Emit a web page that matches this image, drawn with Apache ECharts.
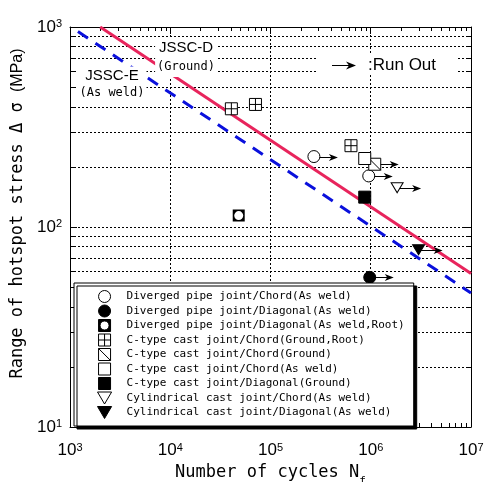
<!DOCTYPE html>
<html><head><meta charset="utf-8">
<script src="https://cdn.jsdelivr.net/npm/echarts@6/dist/echarts.min.js"></script>
<style>html,body{margin:0;padding:0;background:#fff}#c{width:484px;height:482px}</style>
</head><body><div id="c"></div>
<script>
// ---- data (N cycles, stress range MPa) ----
const seriesNames = [
  'Diverged pipe joint/Chord(As weld)',
  'Diverged pipe joint/Diagonal(As weld)',
  'Diverged pipe joint/Diagonal(As weld,Root)',
  'C-type cast joint/Chord(Ground,Root)',
  'C-type cast joint/Chord(Ground)',
  'C-type cast joint/Chord(As weld)',
  'C-type cast joint/Diagonal(Ground)',
  'Cylindrical cast joint/Chord(As weld)',
  'Cylindrical cast joint/Diagonal(As weld)'
];
const pipeChordAsWeld = [[271000, 225], [955000, 180]];
const pipeDiagAsWeld = [[977000, 56]];
const pipeDiagAsWeldRoot = [[48200, 114]];
const cChordGroundRoot = [[40700, 390], [70800, 410], [635000, 255]];
const cChordGround = [[1096000, 206]];
const cChordAsWeld = [[871000, 220]];
const cDiagGround = [[871000, 141]];
const cylChordAsWeld = [[1833000, 157]];
const cylDiagAsWeld = [[3000000, 77]];
const runOutPoints = [[271000, 225], [1096000, 206], [955000, 180], [1833000, 157], [3000000, 77], [977000, 56]];
const jsscD = [[2000, 1000], [10000000, 58.5]];
const jsscE = [[1200, 949], [10000000, 46.8]];
// axis ticks
const xRange = [1000, 10000000];
const yRange = [10, 1000];
const xDecades = [1000, 10000, 100000, 1000000];
const yDecades = [10, 100];
const minorSteps = [2, 3, 4, 5, 6, 7, 8, 9];

const SANS = 'Liberation Sans, Arial, sans-serif';
const NARROW = 'Liberation Sans Narrow, Arial Narrow, Liberation Sans, sans-serif';
const MONO = 'DejaVu Sans Mono, monospace';
const RED = '#e8245c';
const BLUE = '#0a10dc';

const seriesData = [pipeChordAsWeld, pipeDiagAsWeld, pipeDiagAsWeldRoot, cChordGroundRoot,
  cChordGround, cChordAsWeld, cDiagGround, cylChordAsWeld, cylDiagAsWeld];
const SQUARE = 'path://M0,0H20V20H0Z';
const markerStyles = [
  {symbol: 'circle', size: 12, fill: '#fff', bw: 1},
  {symbol: 'circle', size: 12, fill: '#000', bw: 1},
  {symbol: 'path://M0,0H20V20H0Z M10,2.5A7.5,7.5,0,1,0,10,17.5A7.5,7.5,0,1,0,10,2.5Z', size: 12, fill: '#000', bw: 0},
  {symbol: 'path://M0,0H20V20H0Z M10,0V20 M0,10H20', size: 12, fill: '#fff', bw: 1},
  {symbol: 'path://M0,0H20V20H0Z M0,0L20,20', size: 12, fill: '#fff', bw: 1},
  {symbol: SQUARE, size: 12, fill: '#fff', bw: 1},
  {symbol: SQUARE, size: 12, fill: '#000', bw: 1},
  {symbol: 'path://M0,0H20L10,17Z', size: [12, 10], fill: '#fff', bw: 1},
  {symbol: 'path://M0,0H20L10,17Z', size: [12, 10], fill: '#000', bw: 1}
];

function powLabel(v) {
  const e = Math.round(Math.log10(v));
  return '{b|10}{s|' + e + '}';
}
const powRich = {
  b: {fontFamily: NARROW, fontSize: 17, color: '#000'},
  s: {fontFamily: NARROW, fontSize: 11, color: '#000', verticalAlign: 'top'}
};
const dotted = {color: '#000', width: 1, type: [2, 2]};

const chart = echarts.init(document.getElementById('c'), null, {renderer: 'canvas'});

const series = [];
// frame: minor ticks and minor grid lines
series.push({
  type: 'custom', name: 'frame', silent: true, clip: false, z: 1,
  xAxisIndex: 0, yAxisIndex: 0,
  data: [[xRange[0], yRange[0]]],
  renderItem: function (params, api) {
    const bl = api.coord([xRange[0], yRange[0]]);
    const tr = api.coord([xRange[1], yRange[1]]);
    const ch = [];
    const ls = {stroke: '#000', lineWidth: 1};
    xDecades.forEach(function (d) {
      minorSteps.forEach(function (m) {
        const px = Math.round(api.coord([d * m, yRange[0]])[0]) + 0.5;
        ch.push({type: 'line', shape: {x1: px, y1: bl[1], x2: px, y2: bl[1] - 4}, style: ls});
        ch.push({type: 'line', shape: {x1: px, y1: tr[1], x2: px, y2: tr[1] + 4}, style: ls});
      });
    });
    yDecades.forEach(function (d) {
      minorSteps.forEach(function (m) {
        const py = Math.round(api.coord([xRange[0], d * m])[1]) + 0.5;
        ch.push({type: 'line', shape: {x1: bl[0], y1: py, x2: tr[0], y2: py},
          style: {stroke: '#000', lineWidth: 1, lineDash: [2, 2]}});
        ch.push({type: 'line', shape: {x1: bl[0], y1: py, x2: bl[0] + 4, y2: py}, style: ls});
        ch.push({type: 'line', shape: {x1: tr[0], y1: py, x2: tr[0] - 4, y2: py}, style: ls});
      });
    });
    return {type: 'group', children: ch};
  }
});
// design curves
series.push({
  type: 'line', name: 'JSSC-D', data: jsscD, showSymbol: false, symbol: 'none', z: 2,
  lineStyle: {color: RED, width: 3}, silent: true
});
series.push({
  type: 'line', name: 'JSSC-E', data: jsscE, showSymbol: false, symbol: 'none', z: 2,
  lineStyle: {color: BLUE, width: 3, type: [12, 9]}, silent: true
});
// run-out arrows
series.push({
  type: 'custom', name: 'Run Out', silent: true, z: 3, clip: false,
  data: runOutPoints,
  renderItem: function (params, api) {
    const p = api.coord([api.value(0), api.value(1)]);
    const x = p[0], y = Math.round(p[1]) + 0.5;
    return {type: 'group', children: [
      {type: 'line', shape: {x1: x, y1: y, x2: x + 20, y2: y}, style: {stroke: '#000', lineWidth: 1}},
      {type: 'polygon', shape: {points: [[x + 24, y], [x + 15, y - 3.5], [x + 17.5, y], [x + 15, y + 3.5]]},
        style: {fill: '#000'}}
    ]};
  }
});
// measured points
seriesNames.forEach(function (name, i) {
  const st = markerStyles[i];
  series.push({
    type: 'scatter', name: name, data: seriesData[i], z: 4,
    symbol: st.symbol, symbolSize: st.size,
    itemStyle: {color: st.fill, borderColor: '#000', borderWidth: st.bw, opacity: 1},
    emphasis: {disabled: true}
  });
});

const option = {
  animation: false,
  backgroundColor: '#fff',
  grid: {left: 70, top: 27, right: 13, bottom: 55, containLabel: false, outerBoundsMode: 'none'},
  xAxis: [{
    type: 'log', logBase: 10, min: xRange[0], max: xRange[1], position: 'bottom',
    axisLine: {show: true, onZero: false, lineStyle: {color: '#000', width: 1}},
    axisTick: {show: true, inside: true, length: 7, lineStyle: {color: '#000'}},
    axisLabel: {formatter: powLabel, rich: powRich, margin: 15},
    splitLine: {show: true, lineStyle: dotted},
    name: '{m|Number of cycles N}{f|f}', nameLocation: 'middle', nameGap: 32,
    nameTextStyle: {
      rich: {
        m: {fontFamily: MONO, fontSize: 17, color: '#000', verticalAlign: 'top'},
        f: {fontFamily: MONO, fontSize: 11, color: '#000', padding: [12, 0, 0, 0], verticalAlign: 'top'}
      }
    }
  }, {
    type: 'log', logBase: 10, min: xRange[0], max: xRange[1], position: 'top',
    axisLine: {show: true, onZero: false, lineStyle: {color: '#000', width: 1}},
    axisTick: {show: true, inside: true, length: 7, lineStyle: {color: '#000'}},
    axisLabel: {show: false}, splitLine: {show: false}
  }],
  yAxis: [{
    type: 'log', logBase: 10, min: yRange[0], max: yRange[1], position: 'left',
    axisLine: {show: true, onZero: false, lineStyle: {color: '#000', width: 1}},
    axisTick: {show: true, inside: true, length: 7, lineStyle: {color: '#000'}},
    axisLabel: {formatter: powLabel, rich: powRich, margin: 8},
    splitLine: {show: true, lineStyle: dotted},
    name: '{a|Range of hotspot stress}{g| Δ σ }{c|(MPa)}', nameLocation: 'middle', nameRotate: 90, nameGap: 35,
    nameTextStyle: {
      padding: [0, 0, 0, 27],
      rich: {
        a: {fontFamily: MONO, fontSize: 17, color: '#000'},
        g: {fontFamily: MONO, fontSize: 17, color: '#000'},
        c: {fontFamily: SANS, fontSize: 16, color: '#000'}
      }
    }
  }, {
    type: 'log', logBase: 10, min: yRange[0], max: yRange[1], position: 'right',
    axisLine: {show: true, onZero: false, lineStyle: {color: '#000', width: 1}},
    axisTick: {show: true, inside: true, length: 7, lineStyle: {color: '#000'}},
    axisLabel: {show: false}, splitLine: {show: false}
  }],
  legend: {
    orient: 'vertical', left: 74, top: 283, padding: [7, 9, 7, 23],
    itemWidth: 26, itemHeight: 12, itemGap: 1.5, selectedMode: false, z: 10,
    backgroundColor: '#fff', borderColor: '#000', borderWidth: 1,
    shadowColor: '#000', shadowOffsetX: 3, shadowOffsetY: 3, shadowBlur: 0,
    itemStyle: {borderWidth: 1, borderColor: '#000'},
    textStyle: {fontFamily: MONO, fontSize: 11, color: '#000', lineHeight: 12, padding: [0, 0, 0, 4]},
    data: seriesNames
  },
  graphic: [
    {
      type: 'text', x: 186, y: 57, z: 20,
      style: {
        text: '{a|JSSC-D}\n{b|(Ground)}', align: 'center', verticalAlign: 'middle',
        backgroundColor: '#fff', padding: [1, 2, 1, 2],
        rich: {
          a: {fontFamily: SANS, fontSize: 15, color: RED, lineHeight: 19, align: 'center'},
          b: {fontFamily: MONO, fontSize: 12, color: RED, lineHeight: 19, align: 'center'}
        }
      }
    },
    {
      type: 'text', x: 112, y: 84.5, z: 20,
      style: {
        text: '{a|JSSC-E}\n{b|(As weld)}', align: 'center', verticalAlign: 'middle',
        backgroundColor: '#fff', padding: [1, 2, 1, 2],
        rich: {
          a: {fontFamily: SANS, fontSize: 15, color: BLUE, lineHeight: 17, align: 'center'},
          b: {fontFamily: MONO, fontSize: 12, color: BLUE, lineHeight: 17, align: 'center'}
        }
      }
    },
    {
      type: 'group', z: 20, children: [
        {type: 'rect', shape: {x: 317, y: 55, width: 141, height: 20}, style: {fill: '#fff'}, z: 20},
        {type: 'line', shape: {x1: 332, y1: 65.5, x2: 350, y2: 65.5}, style: {stroke: '#000', lineWidth: 1}, z: 21},
        {type: 'polygon', shape: {points: [[356, 65.5], [346, 61.5], [349, 65.5], [346, 69.5]]}, style: {fill: '#000'}, z: 21},
        {type: 'text', x: 368, y: 65.5, z: 21,
          style: {text: ':Run Out', fontFamily: SANS, fontSize: 17, fill: '#000', verticalAlign: 'middle', align: 'left'}}
      ]
    }
  ],
  series: series
};
chart.setOption(option);
</script>
</body></html>
